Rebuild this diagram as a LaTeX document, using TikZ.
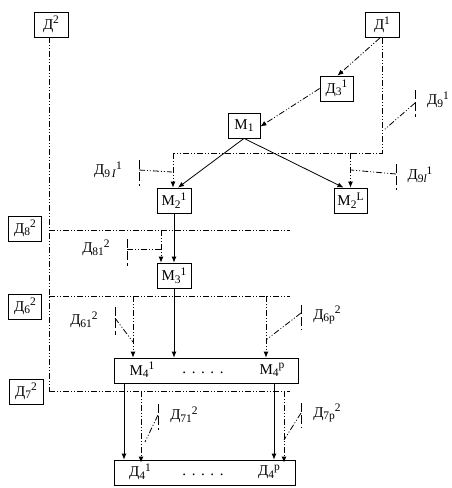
\documentclass[tikz,border=0pt]{standalone}
\usepackage{fontspec}
\setmainfont{Liberation Serif}
\usetikzlibrary{arrows.meta}
\newcommand{\fs}{\fontsize{15}{17}\selectfont}
\newcommand{\dsub}[1]{\raisebox{-2.5pt}{\fontsize{11.5}{12}\selectfont #1}}
\newcommand{\dsup}[1]{\raisebox{5.5pt}{\fontsize{11.5}{12}\selectfont #1}}
\newcommand{\dotrow}{.\hspace{5.6pt}.\hspace{5.6pt}.\hspace{5.6pt}.\hspace{5.6pt}.}
\tikzset{
  box/.style={draw, line width=0.8pt, minimum height=25pt, inner sep=0pt, font=\fs},
  lab/.style={inner sep=0pt, font=\fs},
  dd/.style={line width=0.8pt, dash pattern=on 6pt off 2pt on 1pt off 2pt on 1pt off 2pt},
  sl/.style={line width=0.8pt},
  tip/.style={-{Latex[length=6pt,width=5pt]}},
  tick/.style={line width=0.8pt, dash pattern=on 9pt off 3pt}
}
\begin{document}
\begin{tikzpicture}[x=1pt,y=-1pt]
\useasboundingbox (0,0) rectangle (452,488);

% boxes
\node[box, minimum width=34pt] (D2)  at (51,24.5)   {Д\dsup{2}};
\node[box, minimum width=34pt] (D1)  at (382,25)    {Д\dsup{1}};
\node[box, minimum width=33pt] (D31) at (336.5,88.5){Д\dsub{3}\dsup{1}};
\node[box, minimum width=32pt] (M1)  at (244,125.5) {М\dsub{1}};
\node[box, minimum width=34pt] (M21) at (174,200.5) {М\dsub{2}\dsup{1}};
\node[box, minimum width=33pt] (M2L) at (350.5,200.5){М\dsub{2}\dsup{L}};
\node[box, minimum width=33pt] (D82) at (25,228.5)  {Д\dsub{8}\dsup{2}};
\node[box, minimum width=34pt] (M31) at (174,275.5) {М\dsub{3}\dsup{1}};
\node[box, minimum width=33pt] (D62) at (25,306.5)  {Д\dsub{6}\dsup{2}};
\node[box, minimum width=184pt] (M4) at (206,370.5) {};
\node[box, minimum width=34pt] (D72) at (26,391.5)  {Д\dsub{7}\dsup{2}};
\node[box, minimum width=181pt] (D4) at (204.5,472.5) {};

% texts inside the wide boxes
\node[lab] (m4a) at (142,370) {М\dsub{4}\dsup{1}};
\node[lab] (m4d) at (203,373) {\dotrow};
\node[lab] (m4b) at (272,370) {М\dsub{4}\dsup{р}};
\node[lab] (d4a) at (140,472) {Д\dsub{4}\dsup{1}};
\node[lab] (d4d) at (203,475) {\dotrow};
\node[lab] (d4b) at (269,472) {Д\dsub{4}\dsup{р}};

% sensor labels
\node[lab] (l9)   at (438,100) {Д\dsub{9}\dsup{1}};
\node[lab] (l91)  at (108,170) {Д\dsub{9\,\textit{I}}\dsup{1}};
\node[lab] (l9l)  at (420,175) {Д\dsub{9\textit{l}}\dsup{1}};
\node[lab] (l81)  at (96,248)  {Д\dsub{81}\dsup{2}};
\node[lab] (l61)  at (84,320)  {Д\dsub{61}\dsup{2}};
\node[lab] (l6p)  at (327,315) {Д\dsub{6р}\dsup{2}};
\node[lab] (l71)  at (184,415) {Д\dsub{71}\dsup{2}};
\node[lab] (l7p)  at (327,413) {Д\dsub{7р}\dsup{2}};

% solid flow
\draw[sl,tip] (M1.south) -- ([xshift=4pt]M21.north);
\draw[sl,tip] (M1.south) -- ([xshift=-7pt]M2L.north);
\draw[sl,tip] (M21.south) -- (M31.north);
\draw[sl,tip] (M31.south) -- (M31.south |- M4.north);
\coordinate (s1) at (124,0);
\coordinate (s2) at (274,0);
\draw[sl,tip] (M4.south -| s1) -- (D4.north -| s1);
\draw[sl,tip] (M4.south -| s2) -- (D4.north -| s2);

% top dash-dot flow
\draw[dd,tip] ([xshift=-2pt]D1.south) -- ([xshift=1pt]D31.north);
\draw[dd,tip] (D31.west) -- ([yshift=-1pt]M1.east);
\coordinate (j1) at (382,153);
\coordinate (j2) at (350.5,153);
\coordinate (j3) at (173,153);
\draw[dd] (D1.south) -- (j1) -- (j3);
\draw[dd,tip] (j3) -- (j3 |- M21.north);
\draw[dd,tip] (j2) -- (j2 |- M2L.north);

% left bus
\coordinate (bus0) at (49,37);
\coordinate (bus8) at (49,230);
\coordinate (bus6) at (49,296);
\coordinate (bus7) at (49,391);
\coordinate (e8) at (290,230);
\coordinate (e6) at (290,296);
\coordinate (e7) at (290,391);
\draw[dd] ([xshift=-2pt]D2.south) -- (bus7);
\draw[dd] (bus8) -- (e8);
\draw[dd] (bus6) -- (e6);
\draw[dd] (bus7) -- (e7);

\coordinate (k8) at (161,230);
\draw[dd,tip] (k8) -- (k8 |- M31.north);
\coordinate (k6a) at (133,296);
\coordinate (k6b) at (266,296);
\draw[dd,tip] (k6a) -- (k6a |- M4.north);
\draw[dd,tip] (k6b) -- (k6b |- M4.north);
\coordinate (k7a) at (141,391);
\coordinate (k7b) at (284,391);
\draw[dd,tip] (k7a) -- ([yshift=-3pt]D4.north -| k7a);
\draw[dd,tip] (k7b) -- ([yshift=-3pt]D4.north -| k7b);

% sensor ticks and their dash-dot links
\draw[tick] (415,90) -- (415,117);
\draw[dd] (415,103) -- (384,130);
\draw[tick] (139,160) -- (139,186);
\draw[dd] (139,170) -- (172,172);
\draw[tick] (396,164) -- (396,190);
\draw[dd] (396,174) -- (351,170);
\draw[tick] (127,239) -- (127,266);
\draw[dd] (127,249) -- (161,249);
\draw[tick] (115,307) -- (115,335);
\draw[dd] (115,318) -- (133,342);
\draw[tick] (301,305) -- (301,330);
\draw[dd] (301,313) -- (266,340);
\draw[tick] (158,404) -- (158,430);
\draw[dd] (158,415) -- (145,442);
\draw[tick] (301,403) -- (301,428);
\draw[dd] (301,413) -- (284,440);
\end{tikzpicture}
\end{document}
